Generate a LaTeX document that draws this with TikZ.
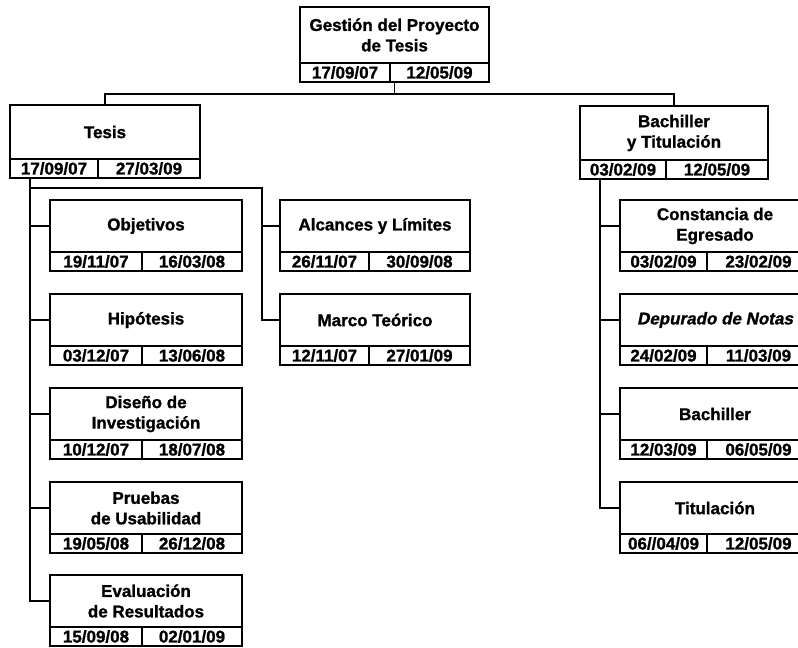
\documentclass[tikz,border=0pt]{standalone}
\usepackage{fontspec}
\setmainfont{Liberation Sans}[BoldFeatures={FakeBold=1.2}]
\usepackage{tikz}
\usetikzlibrary{calc}

\tikzset{
  titulo/.style={draw, line width=1.5pt, inner sep=0pt, outer sep=0pt, minimum height=52pt,
    align=center, font=\bfseries\fontsize{17}{20.5}\selectfont},
  fecha/.style={draw, line width=1.5pt, inner sep=0pt, outer sep=0pt, minimum height=19pt,
    font=\bfseries\fontsize{17}{19}\selectfont},
  rama/.style={line width=1.5pt},
}

% [opciones], nombre, x, y, ancho, ancho de inicio, titulo, inicio, fin
\newcommand{\tarea}[9][]{%
  \pgfmathsetmacro{\anchofin}{#5-#6}
  \node [titulo, minimum width=#5pt, anchor=north west, #1] (#2) at (#3,#4) {#7};
  \node [fecha, minimum width=#6pt, anchor=north west] (#2-i) at (#2.south west) {#8};
  \node [fecha, minimum width=\anchofin pt, anchor=north west] (#2-f) at (#2-i.north east) {#9};
}

\begin{document}
\begin{tikzpicture}[x=1pt, y=-1pt]
\useasboundingbox (0,0) rectangle (798,648);

\tarea[minimum height=56pt]{raiz}{300}{7}{189}{90}{Gestión del Proyecto\\de Tesis}{17/09/07}{12/05/09}
\tarea[minimum height=54pt]{tes}{10}{105}{190}{88}{Tesis}{17/09/07}{27/03/09}
\tarea[minimum height=54pt]{bachtit}{580}{106}{188}{86}{Bachiller\\y Titulación}{03/02/09}{12/05/09}

% tesis
\tarea{obj}{50}{200}{192}{92}{Objetivos}{19/11/07}{16/03/08}
\tarea{hip}{50}{294}{192}{92}{Hipótesis}{03/12/07}{13/06/08}
\tarea{dis}{50}{388}{192}{92}{Diseño de\\Investigación}{10/12/07}{18/07/08}
\tarea{pru}{50}{482}{192}{92}{Pruebas\\de Usabilidad}{19/05/08}{26/12/08}
\tarea{eva}{50}{575}{192}{92}{Evaluación\\de Resultados}{15/09/08}{02/01/09}
\tarea{alc}{280}{200}{190}{89}{Alcances y Límites}{26/11/07}{30/09/08}
\tarea{mar}{280}{294}{190}{89}{Marco Teórico}{12/11/07}{27/01/09}

% bachiller y titulacion
\tarea{con}{620}{200}{190}{87}{Constancia de\\Egresado}{03/02/09}{23/02/09}
\tarea{dep}{620}{294}{190}{87}{\addfontfeature{FakeSlant=0.2}Depurado de Notas}{24/02/09}{11/03/09}
\tarea{bac}{620}{388}{190}{87}{Bachiller}{12/03/09}{06/05/09}
\tarea{tit}{620}{482}{190}{87}{Titulación}{06//04/09}{12/05/09}

% conectores
\draw [rama] (raiz.south |- raiz-i.south) -- ++(0,12) coordinate (bus);
\draw [rama] (tes.north) |- (bus) -| (bachtit.north);

\coordinate (tronco) at ($(tes-i.south west)+(20,0)$);
\foreach \hijo in {obj,hip,dis,pru,eva}
  \draw [rama] (tronco) |- (\hijo.west);
\draw [rama] (tronco) ++(0,10) -| ($(mar.west)+(-18,0)$) -- (mar.west);
\draw [rama] ($(alc.west)+(-18,0)$) -- (alc.west);

\coordinate (tronco2) at ($(bachtit-i.south west)+(20,0)$);
\foreach \hijo in {con,dep,bac,tit}
  \draw [rama] (tronco2) |- (\hijo.west);
\end{tikzpicture}
\end{document}
